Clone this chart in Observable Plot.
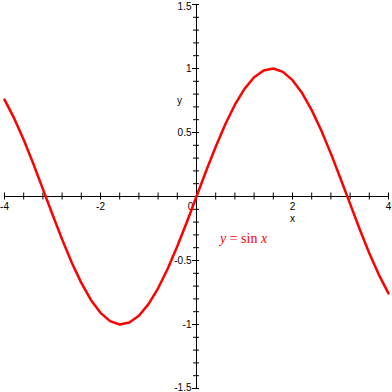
<!DOCTYPE html>
<html>
<head>
<meta charset="utf-8">
<script src="https://cdn.jsdelivr.net/npm/d3@7"></script>
<script src="https://cdn.jsdelivr.net/npm/@observablehq/plot@0.6"></script>
<style>
  html, body { margin: 0; padding: 0; background: #fff; }
  svg { display: block; }
</style>
</head>
<body>
<div id="chart"></div>
<script>
// Curve samples (y = sin x)
const xs = [-4, -3.8, -3.6, -3.4, -3.2, -3.0, -2.8, -2.6, -2.4, -2.2, -2.0, -1.8, -1.6, -1.4, -1.2, -1.0, -0.8, -0.6, -0.4, -0.2,
            0, 0.2, 0.4, 0.6, 0.8, 1.0, 1.2, 1.4, 1.6, 1.8, 2.0, 2.2, 2.4, 2.6, 2.8, 3.0, 3.2, 3.4, 3.6, 3.8, 4];
const ys = [0.757, 0.612, 0.443, 0.256, 0.058, -0.141, -0.335, -0.516, -0.675, -0.808, -0.909, -0.974, -1.0, -0.985, -0.932, -0.841, -0.717, -0.565, -0.389, -0.199,
            0, 0.199, 0.389, 0.565, 0.717, 0.841, 0.932, 0.985, 1.0, 0.974, 0.909, 0.808, 0.675, 0.516, 0.335, 0.141, -0.058, -0.256, -0.443, -0.612, -0.757];

// Axis ticks and labels
const xMinorTicks = [-4, -3.6, -3.2, -2.8, -2.4, -2, -1.6, -1.2, -0.8, -0.4, 0.4, 0.8, 1.2, 1.6, 2, 2.4, 2.8, 3.2, 3.6, 4];
const xTickLabels = [-4, -2, 2, 4];
const yMinorTicks = [-1.5, -1.4, -1.3, -1.2, -1.1, -1, -0.9, -0.8, -0.7, -0.6, -0.5, -0.4, -0.3, -0.2, -0.1,
                     0.1, 0.2, 0.3, 0.4, 0.5, 0.6, 0.7, 0.8, 0.9, 1, 1.1, 1.2, 1.3, 1.4, 1.5];
const yTickLabels = [-1.5, -1, -0.5, 0.5, 1, 1.5];

const curve = xs.map((x, i) => ({x, y: ys[i]}));

const W = 392, H = 392, M = 4;
const xDomain = [-4, 4], yDomain = [-1.5, 1.5];
// convert pixel lengths to data units for tick lengths
const pxX = (xDomain[1] - xDomain[0]) / (W - 2 * M);
const pxY = (yDomain[1] - yDomain[0]) / (H - 2 * M);

const font = "'Liberation Sans', Arial, sans-serif";
const yTop = yTickLabels.filter(d => d === yDomain[1]);
const yBottom = yTickLabels.filter(d => d === yDomain[0]);
const yInner = yTickLabels.filter(d => d !== yDomain[0] && d !== yDomain[1]);
const yLabelOpts = {x: 0, y: d => d, text: d => String(d), dx: -5, fontSize: 10, fill: "#000", textAnchor: "end"};

const chart = Plot.plot({
  width: W,
  height: H,
  margin: M,
  x: {domain: xDomain, axis: null},
  y: {domain: yDomain, axis: null},
  style: {fontFamily: font, background: "#fff", overflow: "visible"},
  marks: [
    Plot.ruleY([0], {stroke: "#000", strokeWidth: 1}),
    Plot.ruleX([0], {stroke: "#000", strokeWidth: 1}),
    Plot.ruleX(xMinorTicks, {x: d => d, y1: -3.5 * pxY, y2: 3.5 * pxY, stroke: "#000"}),
    Plot.ruleY(yMinorTicks, {y: d => d, x1: -3 * pxX, x2: 3 * pxX, stroke: "#000"}),
    Plot.ruleY(yTickLabels, {y: d => d, x1: -4 * pxX, x2: 0, stroke: "#000"}),
    Plot.text(xTickLabels, {x: d => d, y: 0, text: d => String(d), dy: 10, fontSize: 10, fill: "#000", textAnchor: "middle"}),
    Plot.text(yInner, yLabelOpts),
    Plot.text(yTop, {...yLabelOpts, dy: 2}),
    Plot.text(yBottom, {...yLabelOpts, dy: -1}),
    Plot.text(["0"], {x: 0, y: 0, text: d => d, dx: -6, dy: 10, fontSize: 10, fill: "#000", textAnchor: "middle"}),
    Plot.text(["x"], {x: 2, y: 0, text: d => d, dy: 22, fontSize: 10, fill: "#000", textAnchor: "middle"}),
    Plot.text(["y"], {x: 0, y: 0.75, text: d => d, dx: -17, fontSize: 10, fill: "#000", textAnchor: "middle"}),
    Plot.line(curve, {x: "x", y: "y", stroke: "#ff0000", strokeWidth: 2.5, strokeLinejoin: "round"})
  ]
});

// Red annotation "y = sin x" with italic variables, positioned through the scales
const sx = chart.scale("x"), sy = chart.scale("y");
const svgNS = "http://www.w3.org/2000/svg";
const t = document.createElementNS(svgNS, "text");
t.setAttribute("x", sx.apply(0.5));
t.setAttribute("y", sy.apply(-0.37));
t.setAttribute("fill", "#ff0000");
t.setAttribute("text-anchor", "start");
t.setAttribute("font-family", "'Liberation Serif', 'Times New Roman', serif");
t.setAttribute("font-size", "14");
const parts = [["y", true], [" = sin ", false], ["x", true]];
for (const [s, it] of parts) {
  const ts = document.createElementNS(svgNS, "tspan");
  ts.textContent = s;
  if (it) ts.setAttribute("font-style", "italic");
  t.appendChild(ts);
}
chart.appendChild(t);

document.getElementById("chart").appendChild(chart);
</script>
</body>
</html>
